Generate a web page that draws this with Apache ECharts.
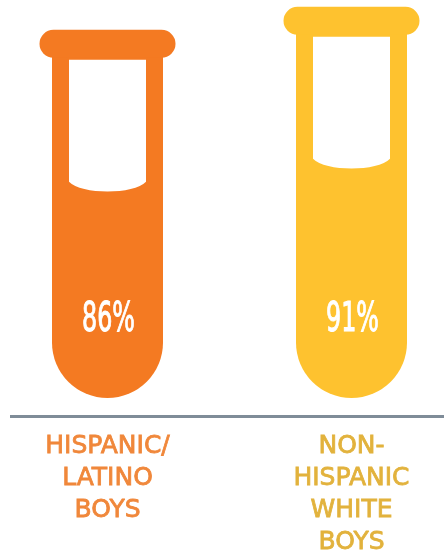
<!DOCTYPE html>
<html>
<head>
<meta charset="utf-8">
<script src="https://cdn.jsdelivr.net/npm/echarts@6/dist/echarts.min.js"></script>
<style>
  html, body { margin: 0; padding: 0; background: #ffffff; }
  #chart { width: 444px; height: 553px; }
</style>
</head>
<body>
<div id="chart"></div>
<script>
// Share of boys in each group (percent)
const categories = ['HISPANIC/\nLATINO\nBOYS', 'NON-\nHISPANIC\nWHITE\nBOYS'];
const values = [86, 91];
const tubeColors = ['#F47A22', '#FEC22F'];
const labelColors = ['#F0873A', '#E2B23C'];

// Value axis range: the tube bottom sits at the axis minimum
const yMin = 39;
const yMax = 119;

const chart = echarts.init(document.getElementById('chart'), null, { renderer: 'canvas' });

function renderTube(params, api) {
  const idx = api.value(0);
  const v = api.value(1);
  const topPt = api.coord([idx, v]);
  const botPt = api.coord([idx, yMin]);
  const cx = topPt[0];
  const fy = topPt[1];          // liquid level
  const by = botPt[1];          // rounded tube bottom
  const color = tubeColors[idx];

  const bodyHalf = 55.5;
  const rimHalf = 68;
  const innerHalf = 38.5;
  const innerTop = fy - 122;
  const rimBottom = innerTop - 3;
  const rimTop = rimBottom - 27;

  const l = cx - innerHalf, r = cx + innerHalf;
  const innerPath =
    'M' + l + ',' + innerTop +
    'L' + r + ',' + innerTop +
    'L' + r + ',' + fy +
    'C' + (r - 12) + ',' + (fy + 13) + ' ' + (l + 12) + ',' + (fy + 13) + ' ' + l + ',' + fy + 'Z';

  return {
    type: 'group',
    children: [
      {
        type: 'rect',
        shape: { x: cx - bodyHalf, y: rimBottom - 2, width: bodyHalf * 2, height: by - rimBottom + 2, r: [0, 0, bodyHalf, bodyHalf] },
        style: { fill: color }
      },
      {
        type: 'rect',
        shape: { x: cx - rimHalf, y: rimTop, width: rimHalf * 2, height: 28, r: 14 },
        style: { fill: color }
      },
      {
        type: 'path',
        shape: { pathData: innerPath },
        style: { fill: '#ffffff' }
      },
      {
        type: 'text',
        x: cx + 1,
        y: by - 77,
        scaleX: 0.66,
        style: {
          x: 0,
          y: 0,
          text: v + '%',
          fill: '#ffffff',
          stroke: '#ffffff',
          lineWidth: 1,
          font: '40px "DejaVu Sans Condensed", "DejaVu Sans", sans-serif',
          textAlign: 'center',
          textVerticalAlign: 'middle'
        }
      }
    ]
  };
}

const labelStyle = function (color) {
  return {
    color: color,
    fontFamily: '"DejaVu Sans", sans-serif',
    fontSize: 25,
    lineHeight: 32,
    textBorderColor: color,
    textBorderWidth: 0.8,
    align: 'center'
  };
};

const option = {
  backgroundColor: '#ffffff',
  animation: false,
  grid: { left: 107.5, right: 92.5, top: 30, bottom: 155, outerBoundsMode: 'none', containLabel: false },
  xAxis: {
    type: 'category',
    data: categories,
    boundaryGap: false,
    offset: 18,
    axisLine: { show: false },
    axisTick: { show: false },
    splitLine: { show: false },
    axisLabel: {
      interval: 0,
      margin: 14,
      hideOverlap: false,
      fontFamily: '"DejaVu Sans", sans-serif',
      fontSize: 25,
      lineHeight: 32,
      formatter: function (value, index) {
        const tag = index === 0 ? 'a' : 'b';
        return value.split('\n').map(function (line) {
          return '{' + tag + '|' + line + '}';
        }).join('\n');
      },
      rich: {
        a: labelStyle(labelColors[0]),
        b: labelStyle(labelColors[1])
      }
    }
  },
  yAxis: {
    type: 'value',
    min: yMin,
    max: yMax,
    show: false
  },
  graphic: [
    {
      type: 'line',
      shape: { x1: 10, y1: 416.5, x2: 444, y2: 416.5 },
      style: { stroke: '#7F8C98', lineWidth: 3 }
    }
  ],
  series: [
    {
      type: 'custom',
      renderItem: renderTube,
      clip: false,
      data: values.map(function (v, i) { return [i, v]; })
    }
  ]
};

chart.setOption(option);
</script>
</body>
</html>
